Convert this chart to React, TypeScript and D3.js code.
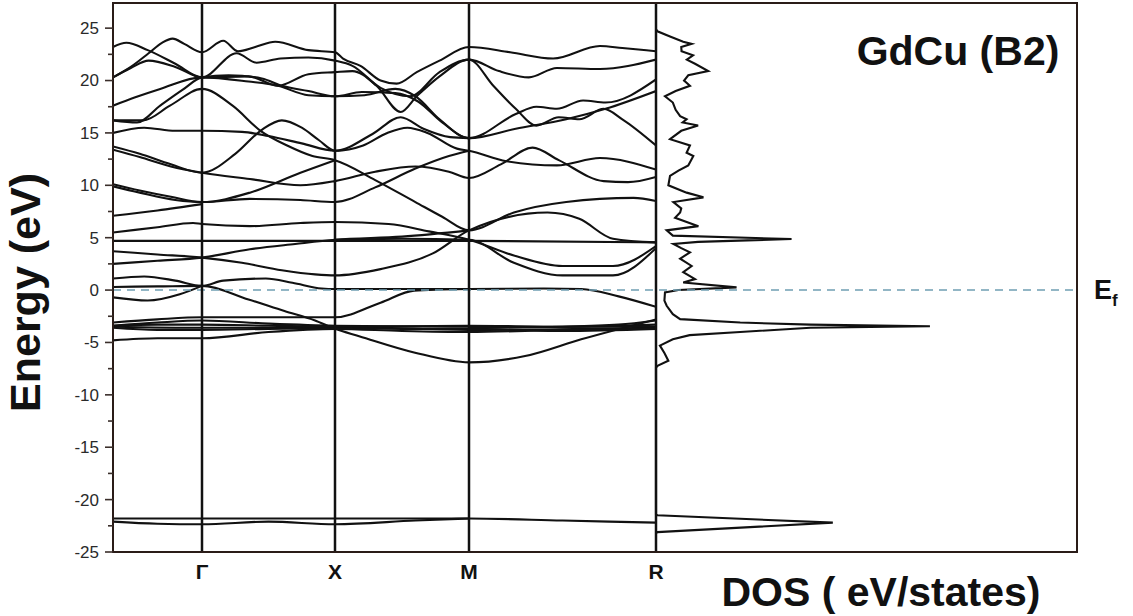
import React from 'react';
import * as d3 from 'd3';

// ---------- k-path (node index along Γ–X–M–R) ----------
const kNodes = [0, 1, 2, 3, 4];
const kNodeLabels = ['', 'Γ', 'X', 'M', 'R'];

// ---------- energy axis ----------
const energyTicks = [-25, -20, -15, -10, -5, 0, 5, 10, 15, 20, 25];
const energyMinorTicks = [-22.5, -17.5, -12.5, -7.5, -2.5, 2.5, 7.5, 12.5, 17.5, 22.5];
const fermiEnergy = 0;

// ---------- bands: [k, E (eV)] ----------
const band01 = [[0, 20.3], [0.2, 21.3], [0.4, 22.6], [0.55, 23.6], [0.67, 24.0], [0.8, 23.5], [1, 22.7], [1.16, 23.8], [1.27, 22.8], [1.4, 23.2], [1.55, 23.7], [1.8, 22.9], [2, 22.7], [2.06, 22.1], [2.19, 21.4], [2.34, 20.0], [2.46, 19.7], [2.61, 20.8], [2.78, 21.9], [3, 23.2], [3.22, 22.7], [3.45, 22.1], [3.7, 23.3], [3.82, 23.1], [4, 22.8]];
const band02 = [[0, 23.2], [0.15, 23.6], [0.39, 22.9], [0.7, 21.6], [1, 20.3], [1.26, 22.6], [1.41, 21.7], [1.59, 22.1], [1.8, 22.2], [2, 21.9], [2.13, 21.4], [2.34, 19.3], [2.56, 18.5], [2.78, 20.8], [3, 22.0], [3.16, 20.9], [3.32, 20.3], [3.47, 21.2], [3.7, 21.1], [4, 22.0]];
const band03 = [[0, 20.3], [0.2, 21.2], [0.4, 21.9], [0.7, 21.3], [1, 20.3], [1.35, 20.4], [1.57, 19.5], [1.8, 20.6], [2, 20.8], [2.13, 20.9], [2.31, 19.5], [2.49, 17.0], [2.61, 18.5], [2.78, 20.4], [3, 22.0], [3.13, 19.5], [3.25, 17.3], [3.36, 15.7], [3.48, 16.5], [3.59, 16.3], [3.72, 17.3], [3.82, 16.3], [4, 13.8]];
const band04 = [[0, 17.6], [0.25, 18.4], [0.53, 19.2], [1, 20.3], [1.35, 19.9], [1.57, 19.5], [1.8, 18.6], [2, 18.5], [2.22, 18.6], [2.45, 19.2], [2.6, 18.5], [2.78, 16.3], [3, 14.5], [3.25, 15.4], [3.52, 16.3], [3.73, 17.3], [4, 19.0]];
const band05 = [[0, 16.2], [0.34, 16.2], [0.64, 17.6], [1, 19.2], [1.23, 17.6], [1.44, 15.2], [1.64, 13.8], [1.83, 12.8], [2, 12.4], [2.3, 10.5], [2.6, 8.4], [2.8, 7.0], [3, 5.7], [3.24, 7.4], [3.52, 8.4], [3.88, 8.8], [4, 8.5]];
const band06 = [[0, 16.2], [0.27, 16.0], [0.53, 17.6], [0.78, 19.1], [1, 20.3], [1.2, 20.5], [1.45, 20.2], [1.6, 19.5], [1.8, 19.0], [2, 18.5], [2.2, 18.9], [2.45, 18.8], [2.62, 18.0], [2.8, 16.0], [3, 14.5], [3.25, 16.8], [3.36, 17.5], [3.47, 17.3], [3.61, 18.1], [3.73, 17.9], [4, 20.1]];
const band07 = [[0, 15.0], [0.35, 15.5], [0.7, 15.2], [1, 15.2], [1.3, 15.1], [1.5, 14.7], [1.75, 14.0], [2, 13.3], [2.28, 14.9], [2.49, 16.5], [2.66, 15.4], [2.86, 14.6], [3, 14.5]];
const band08 = [[0, 13.7], [0.3, 13.0], [0.65, 12.0], [1, 11.2], [1.25, 13.0], [1.45, 15.3], [1.6, 16.2], [1.75, 15.5], [1.88, 14.3], [2, 13.3], [2.21, 13.8], [2.39, 15.0], [2.54, 15.5], [2.69, 15.0], [2.91, 13.5], [3, 13.3], [3.2, 12.3], [3.47, 11.9], [3.7, 12.6], [4, 11.5]];
const band09 = [[0, 13.4], [0.3, 12.7], [0.65, 11.8], [1, 11.2], [1.36, 10.6], [1.74, 10.0], [2, 10.4], [2.3, 11.3], [2.6, 11.8], [2.85, 11.3], [3, 10.7], [3.17, 12.0], [3.34, 13.6], [3.48, 12.4], [3.72, 10.4], [3.85, 10.3], [4, 10.8]];
const band10 = [[0, 10.1], [0.3, 9.5], [0.65, 8.9], [1, 8.4], [1.36, 9.3], [1.74, 11.2], [2, 12.4]];
const band11 = [[0, 9.9], [0.3, 9.3], [0.7, 8.6], [1, 8.4], [1.36, 8.7], [1.74, 8.6], [2, 8.4], [2.3, 9.8], [2.6, 11.6], [2.85, 12.8], [3, 13.3]];
const band12 = [[0, 7.1], [0.5, 7.6], [1, 8.2]];
const band13 = [[0, 5.5], [0.5, 6.0], [0.9, 6.4], [1, 6.3], [1.36, 6.1], [1.74, 6.4], [2, 6.5], [2.4, 6.3], [2.7, 5.6], [3, 4.8], [3.24, 3.3], [3.5, 2.3], [3.77, 2.3], [4, 4.2]];
const band14 = [[0, 4.7], [2, 4.7], [3, 4.7], [4, 4.55]];
const band15 = [[0, 3.7], [0.5, 3.4], [1, 3.1], [1.3, 2.6], [1.6, 1.9], [1.85, 1.5], [2, 1.4], [2.34, 2.0], [2.73, 3.5], [3, 5.7], [3.42, 7.4], [3.59, 6.8], [3.77, 4.9], [4, 4.55]];
const band16 = [[0, 2.5], [0.5, 2.8], [1, 3.1], [1.36, 3.9], [1.7, 4.4], [2, 4.8], [2.5, 5.1], [3, 5.7]];
const band17 = [[2, 4.8], [2.5, 4.9], [3, 4.8], [3.24, 2.6], [3.5, 1.4], [3.77, 1.4], [4, 4.0]];
const band18 = [[0, 1.1], [0.35, 1.3], [0.7, 0.9], [1, 0.4], [1.16, 0.9], [1.48, 1.1], [1.68, 0.7], [1.9, 0.15], [2, 0.1], [2.5, 0.1], [3, 0.1], [3.4, 0.15], [3.6, 0.1], [3.8, -0.6], [4, -1.6]];
const band19 = [[0, 0.3], [0.5, 0.35], [1, 0.4], [1.35, -0.9], [1.62, -2.0], [1.85, -2.9], [2, -3.7], [2.18, -4.4], [2.59, -5.95], [3, -6.9], [3.3, -6.3], [3.6, -4.7], [4, -2.8]];
const band20 = [[0, -0.7], [0.39, -1.0], [0.75, -0.4], [1, 0.4]];
const band21 = [[0, -3.1], [0.5, -2.8], [1, -2.6], [1.5, -2.6], [2, -2.6], [2.34, -1.2], [2.59, -0.05], [2.8, 0.05], [3, 0.1]];
const band22 = [[0, -3.4], [0.5, -3.1], [1, -2.9], [1.5, -3.2], [2, -3.4], [3, -3.5], [3.5, -3.5], [4, -3.3]];
const band23 = [[0, -3.5], [1, -3.6], [1.5, -3.6], [2, -3.5], [3, -3.8], [4, -3.6]];
const band24 = [[0, -3.6], [0.5, -3.8], [1, -3.8], [1.5, -3.7], [2, -3.6], [2.5, -3.7], [3, -3.7], [3.5, -3.9], [4, -3.7]];
const band25 = [[0, -3.4], [0.5, -3.3], [1, -3.3], [1.5, -3.4], [2, -3.5], [3, -3.4], [3.5, -3.5], [4, -3.5]];
const band26 = [[0, -4.8], [0.5, -4.6], [1, -4.6], [1.5, -4.0], [2, -3.7], [2.5, -3.9], [3, -4.0], [3.5, -3.8], [4, -3.7]];
const band27 = [[3, -3.6], [3.5, -3.5], [3.8, -3.3], [4, -2.9]];
const band28 = [[0, -21.8], [1, -21.8], [2, -21.8], [3, -21.8], [3.5, -22.0], [4, -22.2]];
const band29 = [[0, -22.1], [0.5, -22.3], [1, -22.35], [1.5, -22.1], [2, -22.35], [2.6, -22.0], [3, -21.8]];

const bands = [band01, band02, band03, band04, band05, band06, band07, band08, band09, band10,
  band11, band12, band13, band14, band15, band16, band17, band18, band19, band20,
  band21, band22, band23, band24, band25, band26, band27, band28, band29];

// ---------- total DOS: [E (eV), states] ----------
const dosCurve = [
  [24.9, 0.0], [24.7, 0.05], [24.2, 0.5], [23.7, 0.97], [23.5, 1.27], [23.2, 0.9], [22.8, 0.91],
  [22.4, 1.32], [22.0, 1.1], [21.6, 1.39], [20.9, 1.86], [20.5, 1.15], [20.0, 1.0], [19.5, 1.21],
  [19.0, 0.7], [18.5, 0.32], [17.9, 0.6], [17.2, 0.7], [16.6, 0.86], [16.3, 1.09], [16.0, 0.95],
  [15.7, 1.5], [15.2, 0.9], [14.4, 0.5], [13.8, 1.21], [13.1, 1.09], [12.8, 1.33], [11.9, 1.15],
  [11.4, 0.8], [10.9, 0.5], [10.0, 0.44], [9.3, 1.09], [8.85, 1.69], [8.4, 0.62], [7.8, 0.9],
  [7.4, 0.86], [6.9, 0.68], [6.1, 1.51], [5.7, 0.38], [5.2, 0.6], [4.87, 4.83], [4.6, 1.5],
  [4.4, 0.62], [4.0, 0.9], [3.6, 1.21], [3.0, 0.86], [2.3, 1.27], [1.7, 0.97], [1.05, 1.39],
  [0.73, 0.97], [0.26, 2.87], [0.0, 0.8], [-0.22, 0.32], [-1.0, 0.3], [-1.5, 0.38], [-2.3, 0.6],
  [-2.77, 0.86], [-3.1, 3.0], [-3.3, 5.5], [-3.45, 9.76], [-3.6, 5.5], [-4.0, 3.0], [-4.3, 1.2],
  [-4.7, 0.6], [-5.3, 0.14], [-6.0, 0.3], [-6.75, 0.44], [-7.2, 0.07], [-7.4, 0.0],
  [-21.4, 0.0], [-21.5, 0.05], [-22.2, 6.3], [-23.1, 0.05], [-23.2, 0.0],
];
const dosMax = 15;

const FONT = "'Liberation Sans', Arial, Helvetica, sans-serif";

export default function App() {
  const W = 1133;
  const H = 616;
  const left = 113;
  const right = 1077;
  const top = 3;
  const bottom = 552;
  const split = 656;

  // piecewise k scale: each node maps to its vertical line
  const x = d3.scaleLinear().domain(kNodes).range([left, 202, 335, 469, split]);
  const y = d3.scaleLinear().domain([-25, 27.4]).range([bottom, top]);
  const xDos = d3.scaleLinear().domain([0, dosMax]).range([split, right]);

  const bandLine = d3.line<number[]>()
    .x(d => x(d[0]))
    .y(d => y(d[1]))
    .curve(d3.curveMonotoneX);

  const dosLine = d3.line<number[]>()
    .x(d => xDos(d[1]))
    .y(d => y(d[0]))
    .curve(d3.curveLinear);

  const ink = '#111';

  return (
    <svg width={W} height={H} viewBox={`0 0 ${W} ${H}`}
      style={{ position: 'absolute', left: 0, top: 0, display: 'block', background: '#fff' }}>
      <defs>
        <clipPath id="bandClip">
          <rect x={left} y={top} width={split - left} height={bottom - top} />
        </clipPath>
      </defs>

      {/* bands */}
      <g clipPath="url(#bandClip)" fill="none" stroke={ink} strokeWidth={2.1} strokeLinejoin="round">
        {bands.map((b, i) => (
          <path key={i} d={bandLine(b as number[][]) || ''} />
        ))}
      </g>

      {/* DOS */}
      <path d={dosLine(dosCurve as number[][]) || ''} fill="none" stroke={ink} strokeWidth={2.1} strokeLinejoin="miter" />

      {/* Fermi level */}
      <line x1={left} x2={right} y1={y(fermiEnergy)} y2={y(fermiEnergy)}
        stroke="#6f9fb3" strokeWidth={1.5} strokeDasharray="8,6" />

      {/* high-symmetry lines */}
      {kNodes.slice(1).map(k => (
        <line key={k} x1={x(k)} x2={x(k)} y1={top} y2={bottom} stroke={ink} strokeWidth={2.5} />
      ))}

      {/* frame */}
      <rect x={left} y={top} width={right - left} height={bottom - top} fill="none" stroke="#2a1c18" strokeWidth={2} />

      {/* energy axis ticks */}
      <g stroke="#3a2e2a" strokeWidth={1.6}>
        {energyTicks.map(t => (
          <line key={t} x1={left - 8} x2={left} y1={y(t)} y2={y(t)} />
        ))}
        {energyMinorTicks.map(t => (
          <line key={t} x1={left - 5} x2={left} y1={y(t)} y2={y(t)} />
        ))}
      </g>
      <g fontFamily={FONT} fontSize={17} fill="#2a2a2a" textAnchor="end">
        {energyTicks.map(t => (
          <text key={t} x={left - 14} y={y(t)} dy="0.35em">{t}</text>
        ))}
      </g>

      {/* k-point labels */}
      <g fontFamily={FONT} fontSize={21} fontWeight="bold" fill="#111" textAnchor="middle">
        {kNodes.map((k, i) => kNodeLabels[i] ? (
          <text key={k} x={x(k)} y={579}>{kNodeLabels[i]}</text>
        ) : null)}
      </g>

      {/* axis titles */}
      <text transform={`translate(40,${(top + bottom) / 2 + 15}) rotate(-90)`} textAnchor="middle"
        fontFamily={FONT} fontSize={43} fontWeight="bold" fill="#111">Energy (eV)</text>
      <text x={881} y={606} textAnchor="middle" fontFamily={FONT} fontSize={41} fontWeight="bold" fill="#111">
        DOS ( eV/states)
      </text>

      {/* compound label */}
      <text x={958} y={65} textAnchor="middle" fontFamily={FONT} fontSize={41} fontWeight="bold" fill="#111">
        GdCu (B2)
      </text>

      {/* Fermi label */}
      <text x={1094} y={y(fermiEnergy) + 9} fontFamily={FONT} fontSize={27} fontWeight="bold" fill="#111">
        E<tspan fontSize={17} dy={7}>f</tspan>
      </text>
    </svg>
  );
}
